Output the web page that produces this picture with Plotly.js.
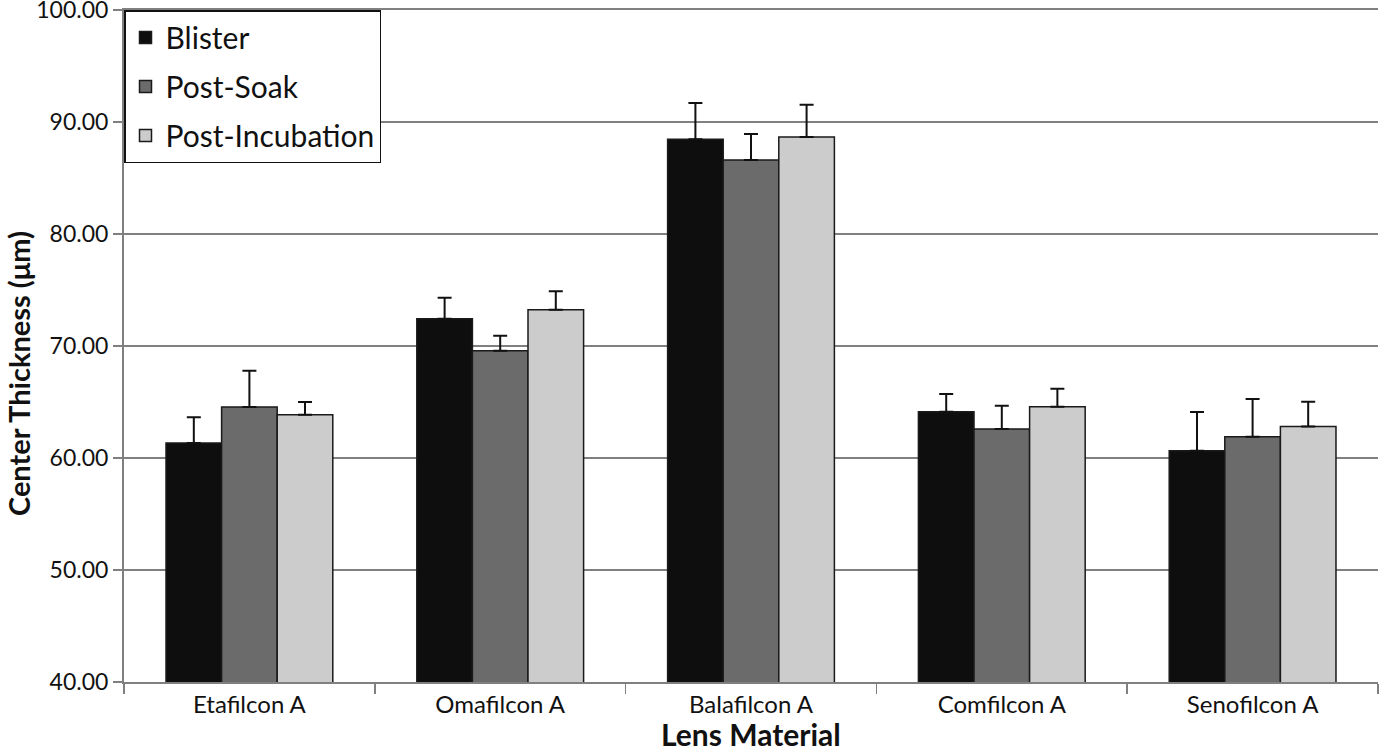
<!DOCTYPE html>
<html>
<head>
<meta charset="utf-8">
<script src="https://cdn.plot.ly/plotly-3.0.1.min.js"></script>
<style>html,body{margin:0;padding:0;background:#fff;}#chart{width:1382px;height:752px;}</style>
</head>
<body>
<div id="chart"></div>
<script>
const categories = ["Etafilcon A", "Omafilcon A", "Balafilcon A", "Comfilcon A", "Senofilcon A"];
const blister = [61.34, 72.44, 88.45, 64.13, 60.65];
const blisterErr = [2.29, 1.86, 3.25, 1.58, 3.45];
const postSoak = [64.55, 69.58, 86.60, 62.59, 61.90];
const postSoakErr = [3.25, 1.34, 2.33, 2.08, 3.37];
const postIncubation = [63.87, 73.24, 88.66, 64.58, 62.82];
const postIncubationErr = [1.13, 1.64, 2.88, 1.61, 2.21];
const yTicks = [40, 50, 60, 70, 80, 90, 100];
const xTitle = "Lens Material";
const yTitle = "Center Thickness (μm)";

const FONT = "Lato, 'Open Sans', sans-serif";
const zeros = categories.map(() => 0);

function barTrace(name, y, err, color, group) {
  return {
    type: "bar", name: name, x: categories, y: y,
    legendgroup: group,
    marker: {color: color, line: {color: "#1a1a1a", width: 1.5}},
    error_y: {type: "data", symmetric: false, array: err, arrayminus: zeros,
              color: "#111", thickness: 2, width: 7}
  };
}

const data = [
  barTrace("Blister", blister, blisterErr, "#0e0e0e", "a"),
  barTrace("Post-Soak", postSoak, postSoakErr, "#6b6b6b", "b"),
  barTrace("Post-Incubation", postIncubation, postIncubationErr, "#cccccc", "c")
];

const W = 1382, H = 752, L = 124, R = 4, T = 10, B = 70;
const pw = W - L - R, ph = H - T - B;

const layout = {
  width: W, height: H,
  margin: {l: L, r: R, t: T, b: B},
  paper_bgcolor: "#fff", plot_bgcolor: "#fff",
  barmode: "group", bargap: 0.335, bargroupgap: 0,
  font: {family: FONT, color: "#111", size: 20},
  showlegend: true,
  legend: {x: 0, y: 1, xanchor: "left", yanchor: "top",
           bordercolor: "#111", borderwidth: 1.5, bgcolor: "#fff",
           font: {family: FONT, size: 30, color: "#111"},
           traceorder: "grouped", tracegroupgap: 7},
  xaxis: {
    type: "category", tickson: "boundaries", ticks: "outside", ticklen: 10,
    tickcolor: "#808080", tickwidth: 1.5,
    showline: true, mirror: true, linecolor: "#808080", linewidth: 2,
    tickfont: {family: FONT, size: 24, color: "#111"}
  },
  yaxis: {
    range: [40, 100], tickvals: yTicks, tickformat: ".2f",
    ticks: "outside", ticklen: 9, tickcolor: "#808080", tickwidth: 1.5,
    showline: true, linecolor: "#808080", linewidth: 2,
    showgrid: true, gridcolor: "#808080", gridwidth: 1.5, zeroline: false,
    ticklabeloverflow: "allow",
    tickfont: {family: FONT, size: 23, color: "#111"}
  },
  annotations: [
    {text: "<b>" + xTitle + "</b>", xref: "paper", yref: "paper",
     x: (751 - L) / pw, y: -(734 - (H - B)) / ph, xanchor: "center", yanchor: "middle",
     showarrow: false, font: {family: FONT, size: 30, color: "#111"}},
    {text: "<b>" + yTitle + "</b>", xref: "paper", yref: "paper",
     x: -(L - 18) / pw, y: (H - B - 374) / ph, xanchor: "center", yanchor: "middle",
     textangle: -90, showarrow: false, font: {family: FONT, size: 29, color: "#111"}}
  ]
};

Plotly.newPlot("chart", data, layout, {displayModeBar: false, staticPlot: true});
</script>
</body>
</html>
